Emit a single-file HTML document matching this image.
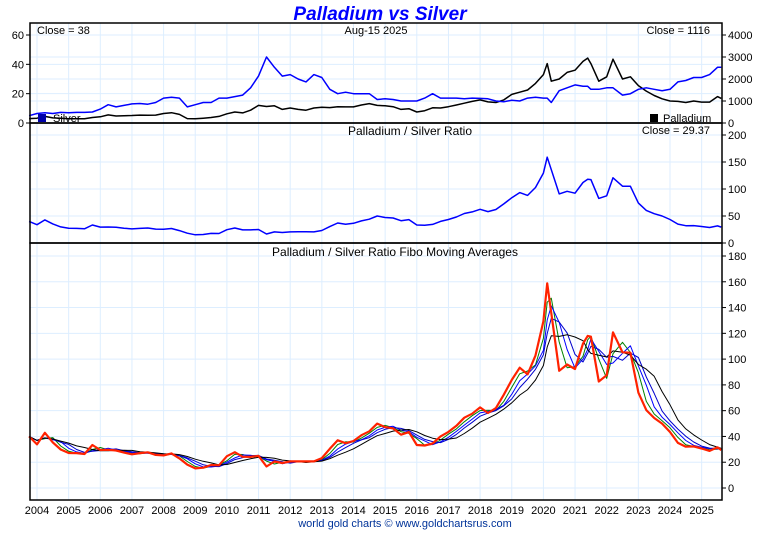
<!DOCTYPE html>
<html><head><meta charset="utf-8"><style>
body{margin:0;background:#fff;font-family:"Liberation Sans",sans-serif}
svg text{font-family:"Liberation Sans",sans-serif}
</style></head><body>
<svg id="c" width="760" height="530" viewBox="0 0 760 530">
<text x="380" y="20" text-anchor="middle" font-size="19" font-weight="bold" font-style="italic" fill="#0000ff">Palladium vs Silver</text>
<text x="405" y="527" text-anchor="middle" font-size="11" fill="#003399">world gold charts © www.goldchartsrus.com</text>
</svg>
<script>
const dates=[2003.75,2004,2004.25,2004.5,2004.75,2005,2005.25,2005.5,2005.75,2006,2006.25,2006.5,2006.75,2007,2007.25,2007.5,2007.75,2008,2008.25,2008.5,2008.75,2009,2009.25,2009.5,2009.75,2010,2010.25,2010.5,2010.75,2011,2011.25,2011.5,2011.75,2012,2012.25,2012.5,2012.75,2013,2013.25,2013.5,2013.75,2014,2014.25,2014.5,2014.75,2015,2015.25,2015.5,2015.75,2016,2016.25,2016.5,2016.75,2017,2017.25,2017.5,2017.75,2018,2018.25,2018.5,2018.75,2019,2019.25,2019.5,2019.75,2020,2020.12,2020.25,2020.5,2020.75,2021,2021.25,2021.4,2021.5,2021.75,2022,2022.2,2022.5,2022.75,2023,2023.25,2023.5,2023.75,2024,2024.25,2024.5,2024.75,2025,2025.25,2025.5,2025.62];
const silver=[5,6.5,7,6.5,7.2,7,7.2,7.2,7.5,9.5,12.5,11,12,13,13.3,12.8,14,17,17.5,17,11,12.5,14,14,17,17,18,19,24,32,45,38,32,33,30,28,33,31,23,20,21,20,20,20,16,16.5,16,15,15,15,17,20,17,17,17,16.5,17,16.8,16.5,15,14.5,15.5,15,17,17.5,17,17,14,22,24,26,25,25,23,23,24,24,19,20,23,24,23,22,23,28,29,31,31,33,38,38].slice(0,91);
const palladium=[200,220,300,230,215,190,195,190,250,280,370,320,330,340,360,355,360,430,470,390,200,190,220,250,300,420,500,460,580,800,750,780,620,680,620,580,680,720,700,740,730,730,820,880,800,780,740,620,650,500,560,690,680,740,820,900,980,1050,960,930,1050,1300,1400,1500,1800,2200,2700,1900,2000,2300,2400,2800,2950,2700,1900,2100,2900,2000,2100,1700,1450,1250,1100,1000,980,930,1000,950,950,1200,1116];
const years=[2004,2005,2006,2007,2008,2009,2010,2011,2012,2013,2014,2015,2016,2017,2018,2019,2020,2021,2022,2023,2024,2025];
const p1LeftTicks=[0,20,40,60];
const p1RightTicks=[0,1000,2000,3000,4000];
const p2Ticks=[0,50,100,150,200];
const p3Ticks=[0,20,40,60,80,100,120,140,160,180];
const maWindows=[2,3,4,6];
const maColors=["#008000","#0000ff","#0000cc","#000000"];

const NS="http://www.w3.org/2000/svg",svg=document.getElementById('c');
const L=30,R=722;
const n=Math.min(dates.length,silver.length,palladium.length);
const ratio=[];for(let i=0;i<n;i++)ratio.push(palladium[i]/silver[i]);
function X(t){return 37+(t-2004)*31.65;}
function mk(tag,a){const e=document.createElementNS(NS,tag);for(const k in a)e.setAttribute(k,a[k]);svg.appendChild(e);return e;}
function yS(top,bot,min,max){return v=>bot-(v-min)/(max-min)*(bot-top);}
const y1L=yS(35,123,0,60),y1R=yS(35,123,0,4000),y2=yS(135,243,0,200),y3=yS(256,488,0,180);
// grids
years.forEach(y=>{const g=mk('line',{x1:X(y),x2:X(y),y1:23,y2:500,stroke:'#ddeeff','stroke-width':1});

const t=mk('text',{x:X(y),y:514,'text-anchor':'middle','font-size':11});t.textContent=y;
});
function hgrid(ticks,f,lo,hi,side,name){ticks.forEach(v=>{const y=f(v);
if(y>lo&&y<hi){const g=mk('line',{x1:L,x2:R,y1:y,y2:y,stroke:'#ddeeff'});}
const tk=side=='r'?mk('line',{x1:R,x2:R+4,y1:y,y2:y,stroke:'#000'}):mk('line',{x1:L-4,x2:L,y1:y,y2:y,stroke:'#000'});

const t=side=='r'?mk('text',{x:R+6,y:y+4,'font-size':11}):mk('text',{x:L-6,y:y+4,'font-size':11,'text-anchor':'end'});
t.textContent=v;});}
hgrid(p1LeftTicks,y1L,23,123,'l','silver-axis');
hgrid(p1RightTicks,y1R,23,123,'r','palladium-axis');
hgrid(p2Ticks,y2,123,243,'r','ratio-axis');
hgrid(p3Ticks,y3,243,500,'r','fibo-axis');
function line(vals,f,color,w,name){const p=[];for(let i=0;i<n;i++)if(vals[i]!=null)p.push(X(dates[i]).toFixed(1)+','+f(vals[i]).toFixed(1));
const e=mk('polyline',{points:p.join(' '),fill:'none',stroke:color,'stroke-width':w,'stroke-linejoin':'round'});
}
line(palladium,y1R,'#000',1.5,'palladium-line');
line(silver,y1L,'#0000ff',1.5,'silver-line');
line(ratio,y2,'#0000ff',1.5,'ratio-line');
maWindows.forEach((w,k)=>{const m=ratio.map((v,i)=>{let s=0,c=0;for(let j=Math.max(0,i-w+1);j<=i;j++){s+=ratio[j];c++;}return s/c;});
line(m,y3,maColors[k],1,'moving-average-'+w);});
line(ratio,y3,'#ff2200',2.2,'ratio-fibo-line');
// frames
[[23,123],[123,243],[243,500]].forEach(([a,b],i)=>{const r=mk('rect',{x:L,y:a,width:R-L,height:b-a,fill:'none',stroke:'#000','stroke-width':1.5});
});
function txt(x,y,s,name,anchor,size){const t=mk('text',{x:x,y:y,'font-size':size||11,'text-anchor':anchor||'start'});t.textContent=s;}
txt(37,34,'Close = '+silver[n-1],'silver-close-label');
txt(376,34,'Aug-15  2025','date-label','middle');
txt(710,34,'Close = '+palladium[n-1],'palladium-close-label','end');
txt(410,135,'Palladium / Silver Ratio','ratio-panel-title','middle',12);
txt(710,134,'Close = '+ratio[n-1].toFixed(2),'ratio-close-label','end');
txt(395,256,'Palladium / Silver Ratio Fibo Moving Averages','fibo-panel-title','middle',12);
const s1=mk('rect',{x:38,y:114,width:8,height:8,fill:'#0000aa'});
txt(53,122,'Silver','silver-legend-label');
const s2=mk('rect',{x:650,y:114,width:8,height:8,fill:'#000'});
txt(663,122,'Palladium','palladium-legend-label');
</script>
</body></html>
